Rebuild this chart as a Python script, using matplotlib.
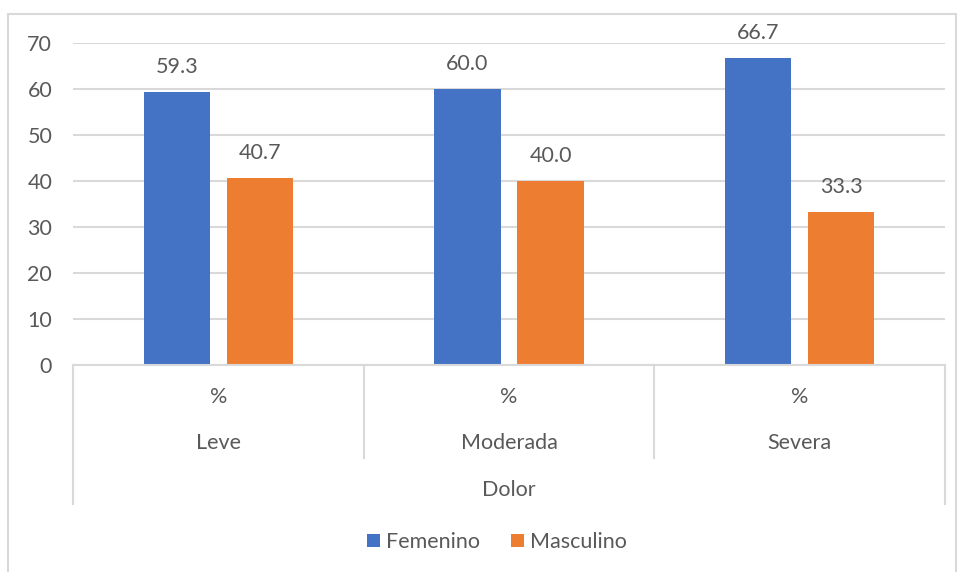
import matplotlib
matplotlib.use("Agg")
import matplotlib.pyplot as plt
from matplotlib.lines import Line2D
from matplotlib.patches import Rectangle
from matplotlib.transforms import blended_transform_factory
import numpy as np

categories = ["Leve", "Moderada", "Severa"]
sub_label = "%"
group_label = "Dolor"
series_names = ["Femenino", "Masculino"]
femenino = [59.3, 60.0, 66.7]
masculino = [40.7, 40.0, 33.3]
colors = ["#4472C4", "#ED7D31"]

W, H = 961, 572
plt.rcParams["font.family"] = ["Lato", "DejaVu Sans"]
text_color = "#595959"
line_color = "#D9D9D9"
fs = 15.5

fig = plt.figure(figsize=(W / 100, H / 100), dpi=100)

def fx(px):
    return px / W

def fy(py):
    return 1 - py / H

# outer chart border
fig.patches.append(Rectangle((fx(8), fy(575)), fx(956) - fx(8), fy(14) - fy(575),
                             transform=fig.transFigure, fill=False,
                             edgecolor=line_color, linewidth=1.5))

ax = fig.add_axes([fx(73), fy(365), fx(945) - fx(73), fy(43) - fy(365)])
x = np.arange(len(categories))
bw = 0.228
off = 0.143
b1 = ax.bar(x - off, femenino, bw, color=colors[0], label=series_names[0], zorder=3)
b2 = ax.bar(x + off, masculino, bw, color=colors[1], label=series_names[1], zorder=3)

for bars, vals in ((b1, femenino), (b2, masculino)):
    for rect, v in zip(bars, vals):
        ax.annotate(f"{v:.1f}", (rect.get_x() + rect.get_width() / 2, v),
                    xytext=(0, 11), textcoords="offset points",
                    ha="center", va="bottom", fontsize=fs, color=text_color)

ax.set_xlim(-0.5, len(categories) - 0.5)
ax.set_ylim(0, 70)
ax.set_yticks(range(0, 71, 10))
ax.tick_params(axis="y", length=0, pad=15, labelsize=fs, labelcolor=text_color)
ax.set_xticks([])
ax.grid(axis="y", color=line_color, linewidth=1.5, zorder=0)
for s in ["top", "right", "left"]:
    ax.spines[s].set_visible(False)
ax.spines["bottom"].set_color(line_color)
ax.spines["bottom"].set_linewidth(1.5)
ax.spines["bottom"].set_zorder(4)

# multi-level category axis
tr = blended_transform_factory(ax.transData, fig.transFigure)
for i, c in enumerate(categories):
    fig.text(i, fy(397), sub_label, transform=tr, ha="center", va="center",
             fontsize=fs, color=text_color)
    fig.text(i, fy(443), c, transform=tr, ha="center", va="center",
             fontsize=fs, color=text_color)
for b in np.arange(-0.5, len(categories), 1.0):
    outer = b in (-0.5, len(categories) - 0.5)
    bottom = 504 if outer else 458
    fig.lines.append(Line2D([b, b], [fy(365), fy(bottom)], transform=tr,
                            color=line_color, linewidth=1.5))
fig.text((len(categories) - 1) / 2, fy(490), group_label, transform=tr,
         ha="center", va="center", fontsize=fs, color=text_color)

leg = fig.legend(handles=[b1, b2], labels=series_names, loc="center",
                 bbox_to_anchor=(fx(497), fy(542)), ncol=2, frameon=False,
                 fontsize=fs, handlelength=0.6, handleheight=0.6,
                 handletextpad=0.3, columnspacing=1.4)
for t in leg.get_texts():
    t.set_color(text_color)

fig.savefig("out.png", dpi=100)
